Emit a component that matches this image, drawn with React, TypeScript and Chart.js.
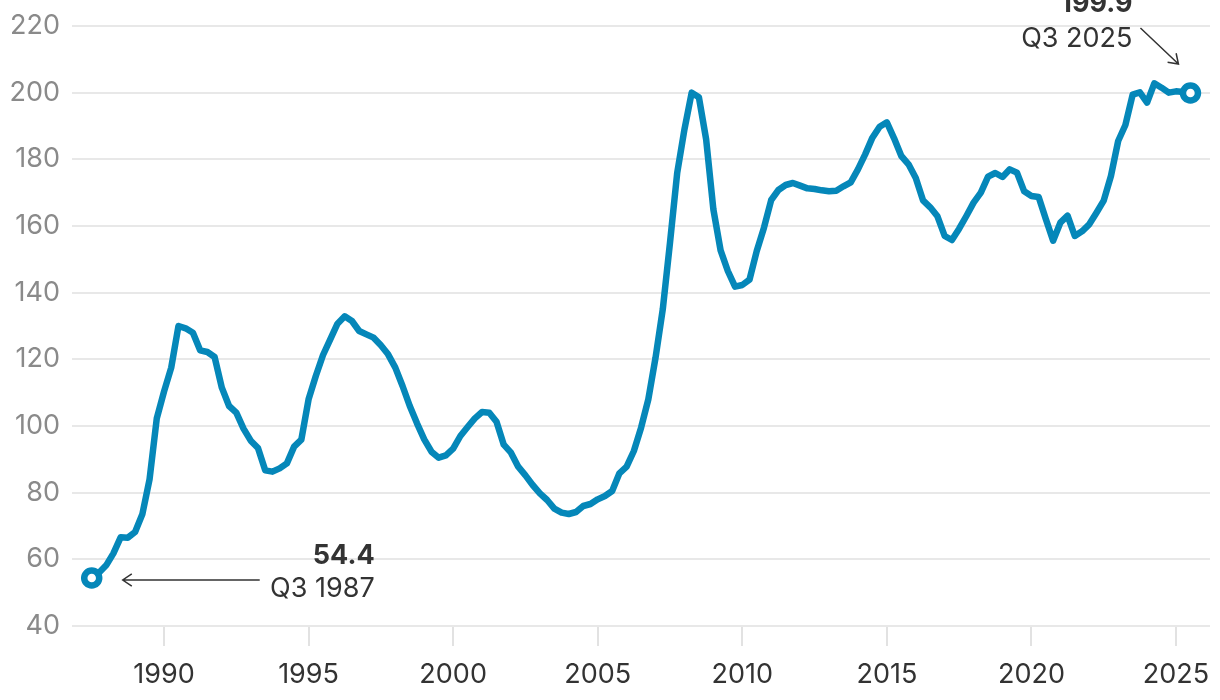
import React, { useEffect, useRef } from "react";
import { Chart, registerables } from "chart.js";

Chart.register(...registerables);

// Quarterly index, Q3 1987 .. Q3 2025
const START_YEAR = 1987;
const START_QUARTER = 3;
const VALUES: number[] = [
  54.4, 56.0, 58.2, 61.8, 66.6, 66.5, 68.2, 73.5, 84.0, 102.3,
  110.3, 117.5, 130.0, 129.3, 128.0, 122.7, 122.2, 120.7, 111.5, 106.0,
  104.0, 99.2, 95.6, 93.4, 86.7, 86.3, 87.3, 88.8, 93.8, 95.9,
  108.0, 115.0, 121.3, 126.0, 130.7, 132.9, 131.5, 128.5, 127.5, 126.5,
  124.2, 121.5, 117.5, 112.0, 106.0, 100.8, 96.0, 92.3, 90.5, 91.2,
  93.2, 97.0, 99.7, 102.3, 104.2, 104.0, 101.3, 94.4, 92.0, 87.8,
  85.2, 82.3, 79.8, 77.8, 75.2, 74.0, 73.6, 74.2, 76.0, 76.6,
  78.0, 79.0, 80.5, 85.8, 87.8, 92.5, 99.5, 108.0, 120.5, 135.0,
  155.0, 176.0, 189.0, 200.0, 198.6, 186.0, 165.0, 152.7, 146.5, 141.8,
  142.3, 143.9, 152.5, 159.5, 167.8, 170.8, 172.3, 172.9, 172.1, 171.3,
  171.1, 170.7, 170.4, 170.6, 171.9, 173.1, 177.0, 181.5, 186.5, 189.8,
  191.1, 186.3, 181.0, 178.5, 174.4, 167.7, 165.6, 162.9, 157.0, 155.8,
  159.2, 163.0, 167.0, 170.0, 174.8, 175.9, 174.7, 177.0, 176.0, 170.4,
  169.0, 168.7, 162.0, 155.6, 161.0, 163.1, 157.0, 158.4, 160.5, 164.0,
  167.6, 175.0, 185.5, 190.3, 199.4, 200.1, 197.0, 202.8, 201.5, 200.0,
  200.4, 200.2, 199.9,
];
const Y_TICKS = [40, 60, 80, 100, 120, 140, 160, 180, 200, 220];
const X_TICKS = [1990, 1995, 2000, 2005, 2010, 2015, 2020, 2025];
const FIRST_LABEL = { value: "54.4", period: "Q3 1987" };
const LAST_LABEL = { value: "199.9", period: "Q3 2025" };

const BLUE = "#0587b9";
const FONT = "Inter, 'Liberation Sans', sans-serif";

const points = VALUES.map((v, i) => ({
  x: START_YEAR + (START_QUARTER - 1) / 4 + i / 4,
  y: v,
}));

function drawArrow(ctx: CanvasRenderingContext2D, x1: number, y1: number, x2: number, y2: number) {
  const ang = Math.atan2(y2 - y1, x2 - x1);
  const h = 11;
  ctx.beginPath();
  ctx.moveTo(x1, y1);
  ctx.lineTo(x2, y2);
  ctx.moveTo(x2 - h * Math.cos(ang - 0.6), y2 - h * Math.sin(ang - 0.6));
  ctx.lineTo(x2, y2);
  ctx.lineTo(x2 - h * Math.cos(ang + 0.6), y2 - h * Math.sin(ang + 0.6));
  ctx.stroke();
}

const annotationPlugin = {
  id: "endLabels",
  afterDraw(chart: any) {
    const ctx: CanvasRenderingContext2D = chart.ctx;
    const meta = chart.getDatasetMeta(0);
    const p0 = meta.data[0];
    const pN = meta.data[meta.data.length - 1];
    ctx.save();
    ctx.fillStyle = "#333";
    ctx.strokeStyle = "#333";
    ctx.lineWidth = 1.5;
    ctx.textAlign = "right";
    ctx.textBaseline = "alphabetic";

    // first point
    ctx.font = `700 27px ${FONT}`;
    ctx.fillText(FIRST_LABEL.value, p0.x + 283, p0.y - 14);
    ctx.font = `400 27px ${FONT}`;
    ctx.fillText(FIRST_LABEL.period, p0.x + 283, p0.y + 19);
    drawArrow(ctx, p0.x + 168, p0.y + 2, p0.x + 31, p0.y + 2);

    // last point
    ctx.font = `700 27px ${FONT}`;
    ctx.fillText(LAST_LABEL.value, pN.x - 58, pN.y - 81);
    ctx.font = `400 27px ${FONT}`;
    ctx.fillText(LAST_LABEL.period, pN.x - 58, pN.y - 46);
    drawArrow(ctx, pN.x - 50, pN.y - 65, pN.x - 12, pN.y - 29);
    ctx.restore();
  },
};

export default function App() {
  const ref = useRef<HTMLCanvasElement | null>(null);
  useEffect(() => {
    if (!ref.current) return;
    const last = VALUES.length - 1;
    const chart = new Chart(ref.current, {
      type: "line",
      data: {
        datasets: [
          {
            data: points,
            borderColor: BLUE,
            borderWidth: 6.5,
            tension: 0,
            borderJoinStyle: "round",
            borderCapStyle: "round",
            pointRadius: (c: any) => (c.dataIndex === 0 || c.dataIndex === last ? 7.5 : 0),
            pointBackgroundColor: "#ffffff",
            pointBorderColor: BLUE,
            pointBorderWidth: 6.5,
            clip: false as any,
          },
        ],
      },
      options: {
        animation: false,
        responsive: false,
        maintainAspectRatio: false,
        layout: { autoPadding: false, padding: { top: 26, right: 10, left: 0, bottom: 0 } },
        plugins: { legend: { display: false }, tooltip: { enabled: false } },
        scales: {
          x: {
            type: "linear",
            min: 1986.818,
            max: 2026.176,
            afterBuildTicks: (s: any) => {
              s.ticks = X_TICKS.map((v) => ({ value: v }));
            },
            afterFit: (s: any) => {
              s.height = 74;
              s.paddingLeft = 0;
              s.paddingRight = 0;
              s.paddingTop = 0;
              s.paddingBottom = 0;
            },
            grid: {
              drawOnChartArea: false,
              drawTicks: true,
              tickLength: 20,
              color: "#e2e2e2",
              lineWidth: 2,
            },
            border: { display: false },
            ticks: {
              color: "#333",
              font: { family: FONT, size: 27, lineHeight: 2.16 },
              padding: 0,
              maxRotation: 0,
              autoSkip: false,
              callback: (v: any) => String(v),
            },
          },
          y: {
            min: 40,
            max: 220,
            afterBuildTicks: (s: any) => {
              s.ticks = Y_TICKS.map((v) => ({ value: v }));
            },
            afterFit: (s: any) => {
              s.width = 72;
              s.paddingLeft = 0;
              s.paddingRight = 0;
              s.paddingTop = 0;
              s.paddingBottom = 0;
            },
            grid: { color: "#e8e8e8", lineWidth: 2, drawTicks: false },
            border: { display: false },
            ticks: {
              color: "#8a8a8a",
              font: { family: FONT, size: 27 },
              padding: 12,
              callback: (v: any) => String(v),
            },
          },
        },
      },
      plugins: [annotationPlugin],
    } as any);
    return () => chart.destroy();
  }, []);

  return (
    <div style={{ position: "fixed", left: 0, top: 0, width: 1220, height: 700, background: "#fff" }}>
      <canvas ref={ref} width={1220} height={700} style={{ display: "block" }} />
    </div>
  );
}
